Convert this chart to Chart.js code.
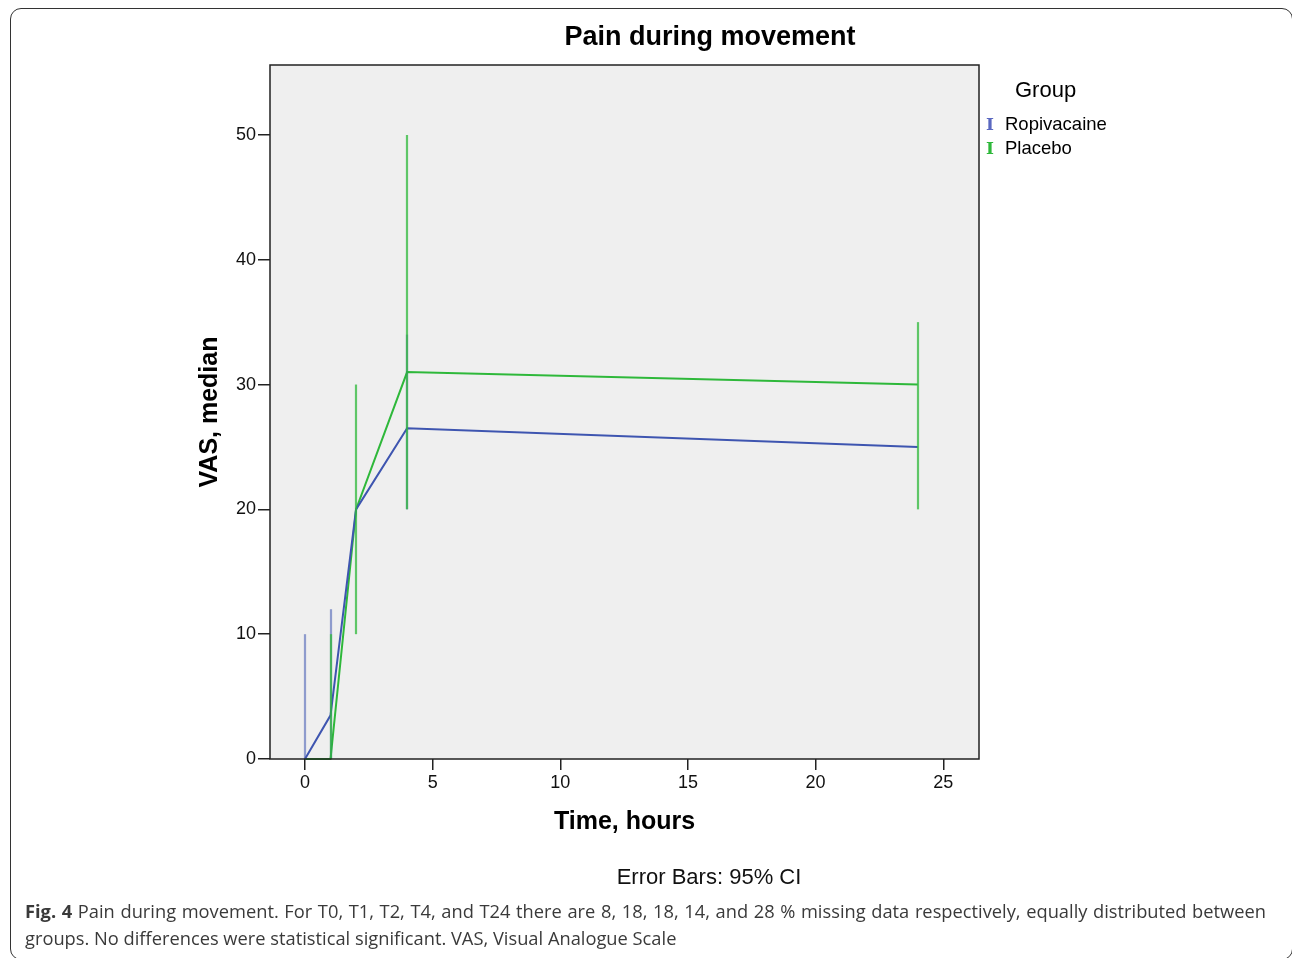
<!DOCTYPE html>
<html>
<head>
<meta charset="utf-8">
<script src="https://cdn.jsdelivr.net/npm/chart.js@4"></script>
<style>
  body { margin: 0; background: #fff; }
  #page { position: relative; width: 1292px; height: 958px; overflow: hidden; background: #fff; }
  #frame { position: absolute; left: 10px; top: 8px; width: 1281px; height: 950px;
           border: 1.5px solid #333; border-radius: 11px; }
  #chartBox { position: absolute; left: 0; top: 0; width: 1292px; height: 958px; }
  .txt { position: absolute; font-family: "Liberation Sans", Arial, sans-serif; color: #000; white-space: nowrap; }
  #title { left: 710px; top: 36px; transform: translate(-50%, -50%); font-size: 27px; font-weight: bold; }
  #legendTitle { left: 1015px; top: 77px; font-size: 22px; }
  .leg { left: 986px; font-size: 18.5px; }
  .leg span.mark { display: inline-block; width: 19px; font-family: "DejaVu Serif", serif; font-size: 17px; font-weight: bold; }
  #errNote { left: 709px; top: 877px; transform: translate(-50%, -50%); font-size: 22px; color: #111; }
  .cap { position: absolute; left: 25px; font-family: "Open Sans", sans-serif; font-size: 18.3px; color: #3a3a3a; white-space: nowrap; }
  #cap1 { top: 898px; width: 1241px; text-align: justify; text-align-last: justify; }
  #cap2 { top: 925px; }
</style>
</head>
<body>
<div id="page">
  <div id="frame"></div>
  <div id="chartBox"><canvas id="painChart" width="1292" height="958"></canvas></div>
  <div class="txt" id="title">Pain during movement</div>
  <div class="txt" id="legendTitle">Group</div>
  <div class="txt leg" style="top:113px"><span class="mark" style="color:#5a68c0">I</span>Ropivacaine</div>
  <div class="txt leg" style="top:137px"><span class="mark" style="color:#2eb83a">I</span>Placebo</div>
  <div class="txt" id="errNote">Error Bars: 95% CI</div>
  <div class="cap" id="cap1"><b>Fig. 4</b> Pain during movement. For T0, T1, T2, T4, and T24 there are 8, 18, 18, 14, and 28 % missing data respectively, equally distributed between</div>
  <div class="cap" id="cap2">groups. No differences were statistical significant. VAS, Visual Analogue Scale</div>
</div>
<script>
// --- DATA ---
const timeHours = [0, 1, 2, 4, 24];
const ropivacaineMedian = [0, 3.5, 20, 26.5, 25];
const ropivacaineLow = [0, 0, 20, 20, 25];
const ropivacaineHigh = [10, 12, 20, 34, 25];
const placeboMedian = [0, 0, 20, 31, 30];
const placeboLow = [0, 0, 10, 20, 20];
const placeboHigh = [0, 10, 30, 50, 35];
const xTickValues = [0, 5, 10, 15, 20, 25];
const yTickValues = [0, 10, 20, 30, 40, 50];

// colours
const blueLine = '#3e55b0';
const greenLine = '#2eb83a';

function toPoints(xs, ys) {
    return xs.map((x, i) => ({ x: x, y: ys[i] }));
}

// plot background, frame and the 95% CI bars
const errorBarPlugin = {
    id: 'errorBars',
    beforeDraw(chart) {
        const a = chart.chartArea;
        const ctx = chart.ctx;
        ctx.save();
        ctx.fillStyle = '#efefef';
        ctx.fillRect(a.left, a.top, a.right - a.left, a.bottom - a.top);
        ctx.restore();
    },
    afterDatasetsDraw(chart) {
        const ctx = chart.ctx;
        const xs = chart.scales.x, ys = chart.scales.y;
        const bars = [
            { low: ropivacaineLow, high: ropivacaineHigh, color: 'rgba(62,85,176,0.55)' },
            { low: placeboLow, high: placeboHigh, color: 'rgba(46,184,58,0.75)' }
        ];
        ctx.save();
        ctx.lineWidth = 2.2;
        bars.forEach(b => {
            ctx.strokeStyle = b.color;
            timeHours.forEach((t, i) => {
                if (b.high[i] === b.low[i]) return;
                const px = Math.round(xs.getPixelForValue(t));
                ctx.beginPath();
                ctx.moveTo(px, ys.getPixelForValue(b.low[i]));
                ctx.lineTo(px, ys.getPixelForValue(b.high[i]));
                ctx.stroke();
            });
        });
        ctx.restore();
    },
    afterDraw(chart) {
        const a = chart.chartArea;
        const ctx = chart.ctx;
        ctx.save();
        ctx.strokeStyle = '#222';
        ctx.lineWidth = 1.5;
        ctx.strokeRect(a.left, a.top, a.right - a.left, a.bottom - a.top);
        ctx.restore();
    }
};

const tickFont = { family: '"Liberation Sans", Arial, sans-serif', size: 18 };
const titleFont = { family: '"Liberation Sans", Arial, sans-serif', size: 25, weight: 'bold' };

new Chart(document.getElementById('painChart'), {
    type: 'line',
    data: {
        datasets: [
            {
                label: 'Ropivacaine',
                data: toPoints(timeHours, ropivacaineMedian),
                borderColor: blueLine,
                borderWidth: 2,
                pointRadius: 0,
                tension: 0,
                clip: false
            },
            {
                label: 'Placebo',
                data: toPoints(timeHours, placeboMedian),
                borderColor: greenLine,
                borderWidth: 2,
                pointRadius: 0,
                tension: 0,
                clip: false
            }
        ]
    },
    options: {
        responsive: false,
        animation: false,
        layout: { padding: { left: 195, top: 65, right: 313, bottom: 121 } },
        plugins: { legend: { display: false }, title: { display: false }, tooltip: { enabled: false } },
        scales: {
            x: {
                type: 'linear',
                min: -1.37,
                max: 26.4,
                afterBuildTicks: s => { s.ticks = xTickValues.map(v => ({ value: v })); },
                afterFit: s => { s.height = 78; },
                ticks: { includeBounds: false, font: tickFont, color: '#111', padding: 2, maxRotation: 0 },
                grid: { drawOnChartArea: false, drawTicks: true, tickLength: 11, color: '#222', lineWidth: 1.5 },
                border: { display: false },
                title: { display: true, text: 'Time, hours', font: titleFont, color: '#000', padding: 0 }
            },
            y: {
                min: 0,
                max: 55.6,
                afterBuildTicks: s => { s.ticks = yTickValues.map(v => ({ value: v })); },
                afterFit: s => { s.width = 75; },
                ticks: { includeBounds: false, font: tickFont, color: '#111', padding: 2 },
                grid: { drawOnChartArea: false, drawTicks: true, tickLength: 12, color: '#222', lineWidth: 1.5 },
                border: { display: false },
                title: { display: true, text: 'VAS, median', font: titleFont, color: '#000', padding: 0 }
            }
        }
    },
    plugins: [errorBarPlugin]
});
</script>
</body>
</html>
